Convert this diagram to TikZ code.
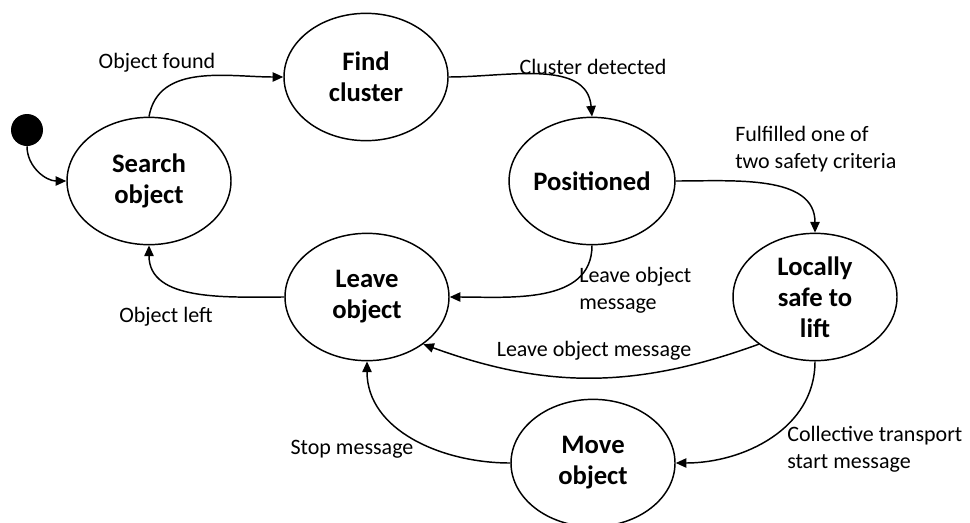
\documentclass[tikz,border=0pt]{standalone}
\usepackage{fontspec}
\setmainfont{Carlito}
\usetikzlibrary{shapes.geometric,arrows.meta}
\tikzset{
  state/.style={ellipse, draw, line width=1.1pt, minimum width=123pt, minimum height=95.5pt,
    inner sep=0pt, align=center, font=\fontsize{20}{23.3}\selectfont\bfseries},
  lbl/.style={font=\fontsize{16.5}{20.3}\selectfont, inner sep=0pt},
  trans/.style={line width=1.1pt, -{Triangle[length=8pt,width=7pt]}},
}
\begin{document}
\begin{tikzpicture}[x=0.75pt,y=-0.75pt]
\useasboundingbox (0,0) rectangle (970,522);
\node[circle, fill=black, minimum size=24pt, inner sep=0pt] (init) at (27,130) {};
\node[state] (search) at (149,181) {Search\\object};
\node[state] (find) at (366,77) {Find\\cluster};
\node[state] (pos) at (592,181) {Positioned};
\node[state] (leave) at (367,297) {Leave\\object};
\node[state] (safe) at (815,297) {Locally\\safe to\\lift};
\node[state] (move) at (593,463) {Move\\object};

\draw[trans] (init.south) to[out=-90,in=180] (search.west);
\draw[trans] (search.north) to[out=80,in=180] (find.west);
\draw[trans] (find.east) to[out=0,in=95] (pos.north);
\draw[trans] (pos.east) to[out=0,in=90] (safe.north);
\draw[trans] (pos.south) to[out=-90,in=0] (leave.east);
\draw[trans] (safe.220) to[out=200,in=-20] (leave.320);
\draw[trans] (safe.south) to[out=-90,in=0] (move.east);
\draw[trans] (move.west) to[out=180,in=-90] (leave.south);
\draw[trans] (leave.west) to[out=180,in=-90] (search.south);

\node[lbl] (l1) at (157,63) {Object found};
\node[lbl] (l2) at (593,67) {Cluster detected};
\node[lbl, anchor=west, align=left] (l3) at (735,149) {Fulfilled one of\\two safety criteria};
\node[lbl, anchor=west, align=left] (l4) at (579,290) {Leave object\\message};
\node[lbl] (l5) at (594,351) {Leave object message};
\node[lbl] (l6) at (352,449) {Stop message};
\node[lbl, anchor=west, align=left] (l7) at (787,449) {Collective transport\\start message};
\node[lbl] (l8) at (166,317) {Object left};
\end{tikzpicture}
\end{document}
